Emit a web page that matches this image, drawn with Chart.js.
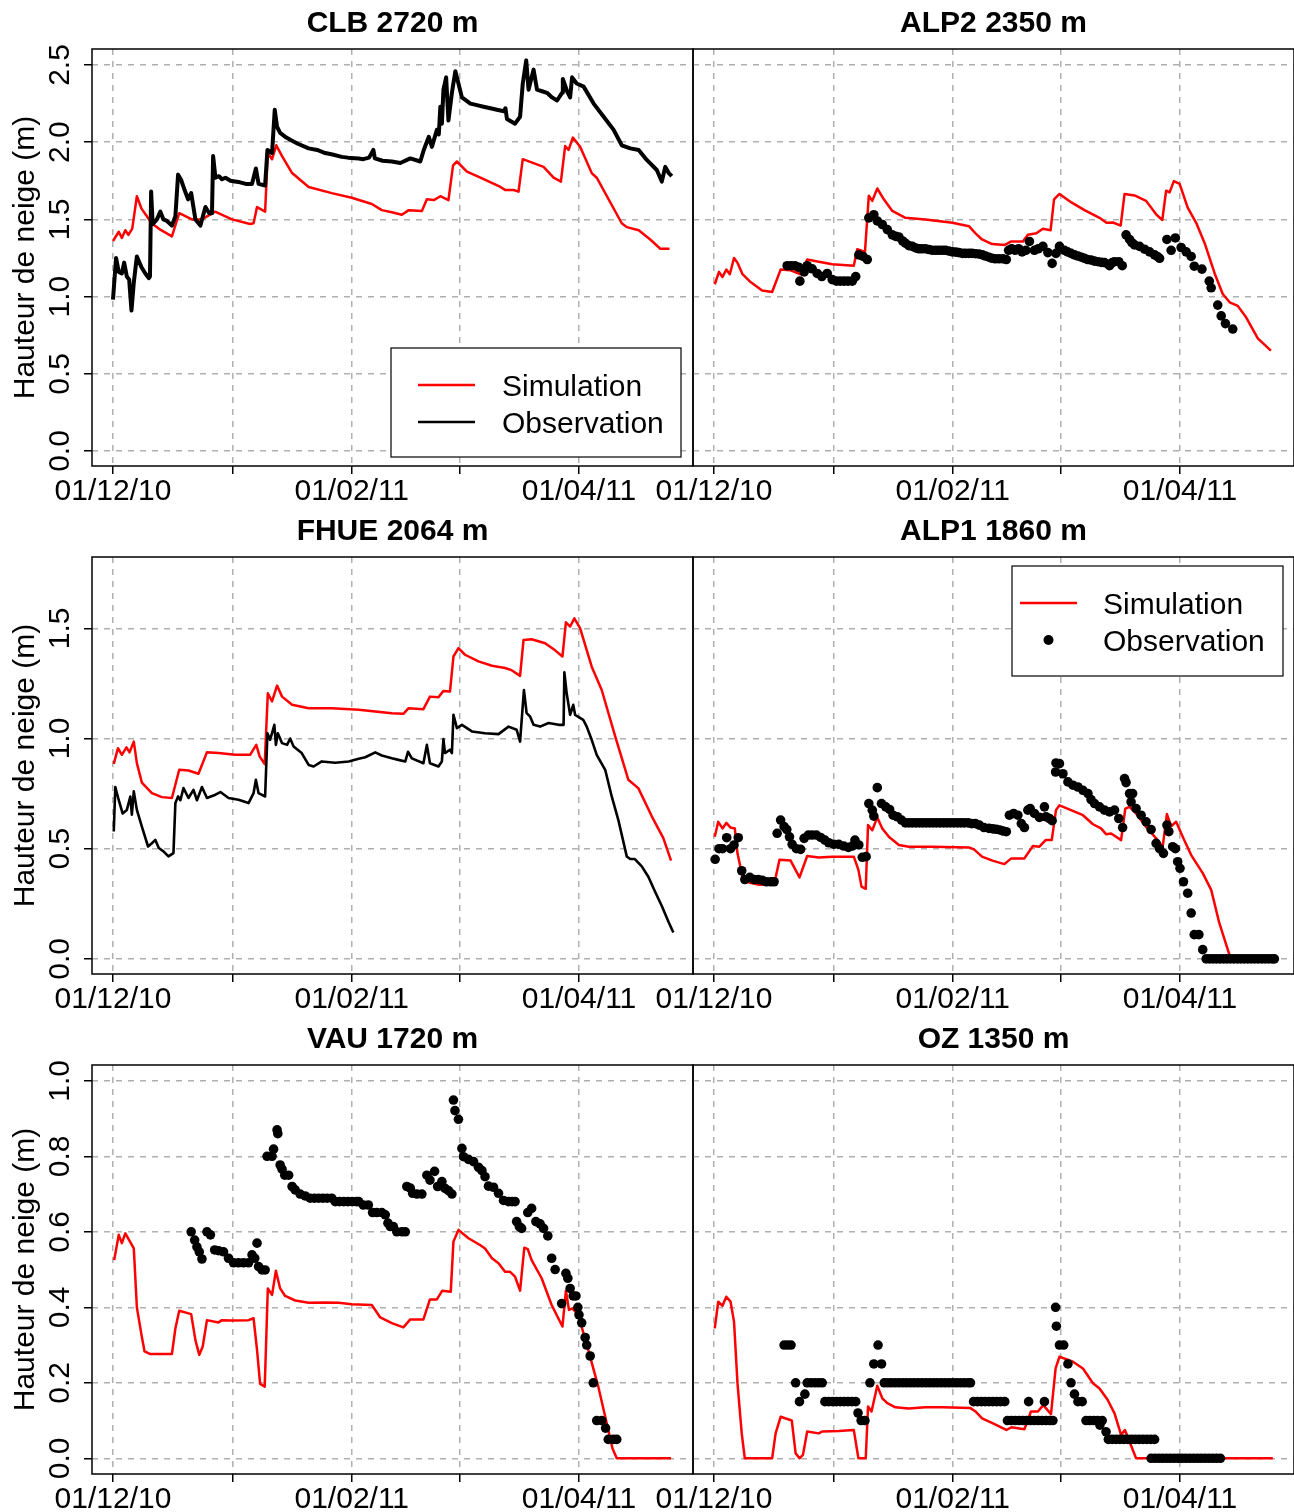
<!DOCTYPE html>
<html><head><meta charset="utf-8">
<script src="https://cdn.jsdelivr.net/npm/chart.js@4.4.1/dist/chart.umd.min.js"></script>
<style>
html,body{margin:0;padding:0;background:#fff;}
#wrap{position:relative;width:1294px;height:1512px;background:#fff;}
canvas{position:absolute;left:0;}
</style></head><body><div id="wrap">
<canvas id="c1" width="1294" height="508" style="top:0px"></canvas>
<canvas id="c2" width="1294" height="508" style="top:0px"></canvas>
<canvas id="c3" width="1294" height="508" style="top:508px"></canvas>
<canvas id="c4" width="1294" height="508" style="top:508px"></canvas>
<canvas id="c5" width="1294" height="496" style="top:1016px"></canvas>
<canvas id="c6" width="1294" height="496" style="top:1016px"></canvas>
</div>
<script>
// ---- labels / ticks ----
const xTickDays = [0, 31, 62, 90, 121];               // days since 01/12/10
const xTickLabels = ['01/12/10', '', '01/02/11', '', '01/04/11'];
const yTicksRow1 = [0, 0.5, 1, 1.5, 2, 2.5];
const yTicksRow2 = [0, 0.5, 1, 1.5];
const yTicksRow3 = [0, 0.2, 0.4, 0.6, 0.8, 1.0];
const panelTitles = ['CLB 2720 m', 'ALP2 2350 m', 'FHUE 2064 m', 'ALP1 1860 m', 'VAU 1720 m', 'OZ 1350 m'];
const seriesNames = ['Simulation', 'Observation'];
const yAxisTitle = 'Hauteur de neige (m)';

// ---- data: [day since 01/12/10, snow depth (m)] ----
const clbSim = [[0,1.36],[1.5,1.42],[2.3,1.38],[3.2,1.43],[4,1.40],[5,1.44],[6.2,1.65],[7.4,1.57],[8.8,1.52],[10,1.475],[12.5,1.43],[15.3,1.39],[17.2,1.54],[20.5,1.50],[23.1,1.50],[26.5,1.55],[30.9,1.50],[35.6,1.47],[36.5,1.475],[37.4,1.58],[39.5,1.55],[40.2,1.93],[41.3,1.89],[42.4,1.98],[43.9,1.91],[46.5,1.80],[50.8,1.71],[56.8,1.67],[62,1.64],[67.2,1.60],[69.8,1.56],[72.4,1.546],[75,1.53],[76.8,1.56],[80.2,1.555],[81.5,1.63],[83.3,1.625],[85,1.65],[87.1,1.625],[88.3,1.85],[89.3,1.875],[91.9,1.81],[95.4,1.77],[100.6,1.71],[101.9,1.69],[104,1.69],[105.3,1.68],[106.4,1.89],[111.8,1.84],[114.4,1.77],[116.3,1.745],[117.4,1.975],[118.3,1.95],[119.4,2.03],[121.3,1.97],[124.3,1.80],[125.6,1.77],[132.1,1.475],[133.4,1.45],[136.5,1.43],[139.5,1.37],[142.1,1.31],[144.5,1.31]];
const clbObs = [[0,0.98],[0.8,1.25],[1.5,1.16],[2.3,1.15],[2.9,1.22],[3.6,1.13],[4.2,1.11],[4.8,0.91],[5.4,1.09],[6.2,1.26],[7.4,1.19],[8.4,1.15],[9.3,1.12],[9.6,1.13],[9.9,1.68],[10.3,1.47],[11.4,1.50],[12.3,1.55],[13.1,1.50],[14,1.49],[15.3,1.46],[16.2,1.52],[16.9,1.79],[17.7,1.755],[18.6,1.69],[19.5,1.63],[20.3,1.67],[21.4,1.50],[22.7,1.46],[24,1.58],[25,1.54],[25.7,1.54],[26,1.91],[26.6,1.77],[27.5,1.78],[28.3,1.76],[29.2,1.77],[30.5,1.75],[31.7,1.745],[33,1.74],[34.5,1.73],[36.1,1.73],[37.1,1.83],[37.8,1.73],[39.5,1.72],[40.1,1.95],[41.3,1.93],[42,2.21],[42.6,2.10],[43.4,2.06],[45,2.03],[46.5,2.01],[48,1.99],[50.8,1.96],[53,1.95],[55.1,1.93],[57,1.92],[59.4,1.905],[61,1.90],[63.8,1.895],[65,1.89],[66.5,1.90],[67.6,1.95],[68,1.895],[70,1.88],[72.4,1.875],[74.6,1.865],[77.2,1.895],[79.8,1.875],[80.7,1.95],[82,2.035],[82.8,1.97],[84.1,2.08],[84.6,2.05],[85,2.23],[85.4,2.12],[85.8,2.34],[86.5,2.42],[87.1,2.14],[88,2.32],[88.9,2.46],[89.7,2.38],[90.6,2.29],[92.8,2.25],[94.5,2.24],[96.2,2.23],[98,2.22],[99.7,2.21],[101.5,2.20],[101.9,2.22],[102.3,2.15],[104.4,2.12],[105.7,2.165],[106.4,2.38],[107.3,2.53],[107.9,2.34],[109.2,2.47],[110.1,2.34],[111.4,2.33],[112.7,2.32],[114,2.29],[115.3,2.27],[116.6,2.32],[116.8,2.41],[117.9,2.33],[118.7,2.29],[119.2,2.42],[120.4,2.38],[122.2,2.36],[124.8,2.25],[127.4,2.165],[130,2.08],[132.1,1.98],[134.3,1.96],[136.5,1.95],[138.6,1.885],[141.2,1.82],[142.5,1.745],[143.4,1.84],[144.3,1.80],[145.1,1.78]];

const alp2Sim = [[0.2,1.08],[1.3,1.16],[2.2,1.127],[3.2,1.175],[4.1,1.145],[5.2,1.25],[6.1,1.22],[7.4,1.145],[9.5,1.094],[12.5,1.04],[15.1,1.03],[17.3,1.175],[19.9,1.17],[22.5,1.145],[24.2,1.24],[27.2,1.226],[30.7,1.21],[36.3,1.20],[37.2,1.307],[39.2,1.29],[40.2,1.653],[41.1,1.62],[42.4,1.70],[44.1,1.63],[46.3,1.555],[49.7,1.51],[54.9,1.50],[61.9,1.478],[66.2,1.456],[67.9,1.41],[69.6,1.37],[72.2,1.34],[75.5,1.335],[77.2,1.357],[80.2,1.357],[81.5,1.40],[83.7,1.41],[85.4,1.44],[87.4,1.43],[88.3,1.63],[89.7,1.665],[92.8,1.61],[96.2,1.56],[100.1,1.51],[101.9,1.478],[103.6,1.48],[105.6,1.46],[106.6,1.665],[109.2,1.655],[112.2,1.62],[114.8,1.533],[116.4,1.496],[117.4,1.686],[118.3,1.675],[119.4,1.748],[120.9,1.73],[123,1.576],[125.2,1.478],[127.4,1.346],[130,1.15],[132.1,1.017],[133.9,0.963],[136,0.94],[138.2,0.864],[141.2,0.73],[144.6,0.65]];
const alp2Obs = [[19,1.20],[20,1.20],[21,1.20],[22,1.19],[22.3,1.10],[23.4,1.16],[24.2,1.20],[25.5,1.18],[26.8,1.15],[28,1.13],[29.4,1.15],[30.7,1.11],[31.8,1.10],[32.8,1.10],[33.8,1.10],[34.8,1.10],[35.9,1.10],[36.8,1.13],[37.6,1.27],[38.7,1.26],[39.8,1.24],[40.2,1.51],[41.5,1.53],[42.4,1.49],[43.7,1.467],[45,1.434],[46.3,1.40],[47.2,1.39],[48,1.386],[49,1.36],[49.7,1.346],[50.6,1.33],[51.5,1.325],[52.4,1.315],[53.2,1.31],[54,1.31],[54.9,1.31],[55.8,1.305],[56.7,1.30],[57.6,1.30],[58.4,1.30],[59.3,1.30],[60.1,1.30],[61,1.295],[61.9,1.29],[62.8,1.288],[63.6,1.285],[64.5,1.28],[65.3,1.28],[66.2,1.28],[67,1.28],[67.9,1.278],[68.8,1.276],[69.7,1.27],[70.5,1.263],[71.4,1.255],[72.2,1.248],[73,1.245],[74,1.245],[75,1.245],[75.9,1.24],[76.5,1.30],[77.3,1.31],[78.2,1.30],[79.1,1.31],[80,1.29],[81,1.30],[81.9,1.357],[83.2,1.30],[84.2,1.31],[85.4,1.325],[86.7,1.285],[87.8,1.215],[88.8,1.28],[89.7,1.325],[91,1.30],[91.8,1.29],[92.7,1.28],[93.6,1.27],[94.5,1.263],[95.4,1.255],[96.2,1.248],[97,1.24],[97.9,1.237],[98.8,1.23],[99.7,1.226],[100.6,1.222],[101.4,1.22],[102.7,1.20],[103.4,1.22],[104,1.226],[105.1,1.226],[106,1.20],[107,1.40],[107.9,1.37],[108.5,1.35],[109.2,1.335],[110.5,1.325],[111.8,1.307],[113.1,1.29],[114.4,1.27],[115.1,1.26],[115.7,1.248],[117.6,1.37],[118.7,1.30],[119.8,1.38],[121.3,1.318],[122.6,1.29],[123.9,1.26],[124.7,1.197],[126.7,1.178],[128.6,1.10],[129.1,1.057],[130.8,0.945],[131.7,0.875],[132.8,0.825],[134.7,0.79]];

const fhueSim = [[0.2,0.885],[1.3,0.956],[2.3,0.926],[3.5,0.96],[4.3,0.937],[5.4,0.986],[6.2,0.888],[7.5,0.80],[10.1,0.752],[12.7,0.734],[15.3,0.73],[17.2,0.858],[19.6,0.855],[22.2,0.84],[24.4,0.938],[27.4,0.934],[31.7,0.926],[35.6,0.926],[37.2,0.971],[38.1,0.918],[39.4,0.884],[40.2,1.205],[41.3,1.168],[42.6,1.24],[43.9,1.19],[46.5,1.153],[50.8,1.137],[56.8,1.137],[63.8,1.13],[72.4,1.115],[75.4,1.112],[76.7,1.137],[80.6,1.133],[82.3,1.19],[84.5,1.187],[85.8,1.216],[87.5,1.213],[88.4,1.372],[89.7,1.41],[91.4,1.38],[94.9,1.35],[98.4,1.33],[101.8,1.32],[103.5,1.31],[105.7,1.284],[106.6,1.447],[108.7,1.45],[112.2,1.432],[114.8,1.40],[116.7,1.372],[117.6,1.527],[118.7,1.508],[119.8,1.545],[121.3,1.50],[124.3,1.326],[126.9,1.22],[130.4,1.01],[133.8,0.813],[136.4,0.775],[139.9,0.647],[142.9,0.548],[144.9,0.446]];
const fhueObs = [[0.2,0.578],[0.6,0.78],[1.5,0.72],[2.5,0.66],[3.6,0.676],[4.5,0.737],[4.9,0.654],[5.4,0.76],[6.2,0.676],[7.5,0.60],[9.1,0.51],[10.1,0.525],[11,0.54],[11.9,0.503],[13.1,0.488],[14.4,0.465],[15.7,0.48],[16.2,0.707],[16.9,0.737],[17.5,0.72],[18.3,0.775],[19.6,0.73],[20.9,0.767],[21.8,0.72],[23.1,0.78],[24.4,0.73],[26.6,0.745],[27.9,0.757],[30,0.73],[32.6,0.722],[35.2,0.707],[36.5,0.752],[37.1,0.813],[37.8,0.752],[39.5,0.737],[40.1,1.024],[40.8,0.994],[41.9,1.062],[42.3,0.971],[42.8,1.024],[43.9,0.979],[45.2,0.971],[46,1.0],[46.9,0.964],[49,0.934],[50.8,0.88],[52.1,0.873],[54.2,0.896],[57.7,0.89],[61.2,0.896],[63.8,0.908],[65.5,0.915],[68.1,0.937],[69.8,0.923],[72.4,0.91],[74.1,0.903],[75.9,0.896],[76.6,0.94],[77.6,0.91],[80.6,0.888],[81.5,0.971],[82.3,0.888],[84.5,0.873],[85.4,0.896],[85.8,0.997],[86.2,0.934],[87.5,0.949],[88,0.934],[88.4,1.107],[89.3,1.047],[90.6,1.062],[93.2,1.032],[96.6,1.024],[100.1,1.02],[102.7,1.054],[104.8,1.04],[105.7,0.986],[106.7,1.22],[107.4,1.115],[108.3,1.10],[109.2,1.062],[110.9,1.054],[113.1,1.07],[115.7,1.062],[117,1.062],[117.2,1.30],[117.8,1.205],[118.7,1.107],[119.5,1.153],[120,1.107],[122.1,1.085],[123,1.054],[124.3,0.994],[125.6,0.926],[127.8,0.858],[129.5,0.737],[131.2,0.631],[133.4,0.465],[134.3,0.453],[135.5,0.453],[137.3,0.42],[139,0.373],[140.7,0.307],[142.5,0.24],[144.2,0.17],[145.5,0.12]];

const alp1Sim = [[0.2,0.554],[1.1,0.622],[2.2,0.592],[3.2,0.617],[4.3,0.596],[5.4,0.592],[6.1,0.479],[7.4,0.373],[9.1,0.346],[11.7,0.336],[15.6,0.336],[17,0.45],[19.9,0.446],[22.2,0.37],[24.2,0.467],[27.2,0.46],[30.7,0.464],[36.3,0.464],[37.5,0.404],[38.3,0.328],[39.4,0.318],[40,0.607],[41.1,0.584],[42.4,0.642],[43.7,0.592],[45.4,0.554],[48,0.517],[50.6,0.509],[56.7,0.509],[66.2,0.506],[67.5,0.497],[69.6,0.464],[72.3,0.446],[75.4,0.43],[77.2,0.456],[80.6,0.456],[82.8,0.512],[84.5,0.509],[86.1,0.539],[87.7,0.539],[88.8,0.675],[89.7,0.697],[92.7,0.675],[95.8,0.652],[98.4,0.611],[100.5,0.592],[101.8,0.566],[103.1,0.569],[104.4,0.554],[105.7,0.539],[106.8,0.682],[107.9,0.69],[109.6,0.66],[112.2,0.599],[114.8,0.547],[116.5,0.509],[117.6,0.657],[118.7,0.602],[120,0.622],[121.7,0.554],[123.9,0.471],[126.9,0.389],[129.1,0.313],[131.2,0.163],[133.8,0.02],[134.7,0],[145,0]];
const alp1Obs = [[0.3,0.452],[1.3,0.50],[2.2,0.50],[3.3,0.55],[4.3,0.50],[5.2,0.517],[6.3,0.55],[7.2,0.40],[8,0.36],[9.3,0.37],[10.4,0.36],[11.5,0.36],[12.5,0.357],[13.6,0.35],[14.7,0.35],[15.6,0.35],[16.4,0.57],[17.3,0.63],[18.2,0.60],[18.9,0.587],[19.6,0.554],[20.3,0.52],[21.4,0.50],[22.5,0.497],[23.4,0.547],[24.5,0.562],[25.5,0.562],[26.6,0.562],[27.7,0.551],[28.8,0.539],[29.8,0.527],[31.1,0.52],[32.4,0.52],[33.7,0.512],[34.9,0.506],[35.9,0.512],[36.6,0.539],[37.6,0.517],[38.5,0.461],[39.5,0.464],[40.2,0.705],[41.1,0.675],[41.5,0.648],[42.4,0.777],[43.5,0.705],[44.6,0.69],[45.6,0.678],[46.5,0.652],[47.6,0.645],[48.7,0.63],[49.7,0.617],[50.6,0.617],[51.5,0.617],[52.4,0.617],[53.3,0.617],[54.2,0.617],[55.1,0.617],[56,0.617],[56.9,0.617],[57.8,0.617],[58.7,0.617],[59.6,0.617],[60.5,0.617],[61.4,0.617],[62.3,0.617],[63.2,0.617],[64.1,0.617],[65,0.617],[66,0.617],[66.9,0.614],[67.9,0.614],[68.9,0.607],[70.1,0.596],[71.4,0.592],[72.4,0.59],[73.3,0.588],[74.2,0.585],[75.1,0.58],[75.9,0.577],[76.7,0.652],[77.8,0.66],[78.9,0.652],[79.8,0.614],[80.6,0.596],[81.5,0.675],[82.1,0.682],[83.2,0.66],[84.5,0.642],[85.8,0.69],[86.2,0.645],[87.1,0.637],[87.8,0.627],[88.7,0.848],[88.8,0.889],[89.7,0.886],[90.6,0.84],[91.9,0.803],[93.2,0.788],[94.5,0.78],[95.8,0.765],[97.1,0.75],[97.9,0.723],[98.8,0.705],[100.1,0.69],[101.4,0.675],[102.7,0.667],[104,0.675],[105.1,0.637],[106.1,0.596],[106.6,0.818],[107,0.80],[107.9,0.75],[108.3,0.712],[108.7,0.75],[109.6,0.682],[110.9,0.652],[112.2,0.622],[113.5,0.587],[114.8,0.524],[115.7,0.50],[116.7,0.479],[117.6,0.607],[118.1,0.577],[119.1,0.509],[119.8,0.50],[120.4,0.441],[121,0.411],[121.9,0.35],[123,0.298],[123.9,0.208],[124.7,0.11],[125.9,0.11],[126.9,0.042],[127.8,0],[128.7,0],[129.6,0],[130.5,0],[131.4,0],[132.3,0],[133.2,0],[134.1,0],[135,0],[135.9,0],[136.8,0],[137.7,0],[138.6,0],[139.5,0],[140.4,0],[141.3,0],[142.2,0],[143.1,0],[144,0],[144.9,0],[145.5,0]];

const vauSim = [[0.3,0.525],[1.5,0.592],[2.3,0.57],[3.2,0.596],[4.2,0.578],[5.4,0.556],[6.2,0.40],[7.4,0.327],[8.2,0.283],[9.7,0.276],[11.9,0.276],[15.3,0.276],[16.2,0.344],[17.2,0.391],[20.3,0.382],[21.4,0.313],[22.4,0.274],[23.3,0.296],[24.4,0.366],[27.4,0.36],[28.3,0.366],[30.9,0.365],[35.2,0.366],[36.5,0.371],[37.4,0.287],[38.2,0.197],[39.4,0.19],[40.2,0.45],[41.3,0.433],[42.3,0.497],[43.4,0.45],[44.7,0.43],[47.3,0.418],[50.8,0.412],[55.1,0.413],[58.6,0.412],[62,0.408],[67.2,0.406],[69.4,0.373],[72.4,0.358],[75.4,0.347],[77.2,0.368],[80.6,0.368],[82.3,0.421],[84.1,0.421],[85.5,0.444],[87.7,0.441],[88.4,0.574],[89.7,0.605],[92.3,0.583],[95.3,0.565],[96.6,0.556],[98.4,0.53],[100.1,0.517],[101.8,0.494],[103.1,0.494],[104.4,0.481],[105.7,0.444],[106.8,0.558],[107.7,0.554],[108.7,0.525],[111.3,0.477],[113.9,0.406],[116.7,0.349],[117.6,0.444],[118.4,0.393],[119.3,0.397],[120.8,0.38],[123.4,0.287],[126,0.19],[128.2,0.093],[129.7,0.026],[130.8,0],[144.9,0]];
const vauObs = [[20.3,0.60],[21.2,0.578],[21.8,0.56],[22.4,0.547],[23.1,0.528],[24.4,0.60],[25.3,0.592],[26.4,0.552],[27.4,0.55],[28.7,0.547],[30,0.53],[31.3,0.518],[32.6,0.518],[33.9,0.518],[35.2,0.518],[36.1,0.539],[36.8,0.53],[37.4,0.57],[37.8,0.508],[38.7,0.499],[39.5,0.499],[40,0.80],[41.3,0.80],[41.7,0.819],[42.6,0.87],[42.8,0.86],[43.4,0.777],[43.9,0.766],[44.6,0.75],[45.6,0.75],[46.5,0.72],[47.3,0.711],[48.6,0.70],[49.9,0.695],[51.2,0.689],[52.3,0.689],[53.4,0.689],[54.5,0.689],[55.6,0.689],[56.8,0.689],[57.7,0.68],[58.8,0.68],[59.9,0.68],[61,0.68],[62.1,0.68],[63.2,0.68],[63.8,0.68],[65,0.671],[66.3,0.671],[67.4,0.651],[68.5,0.651],[69.8,0.651],[70.7,0.645],[71.4,0.623],[72,0.614],[72.8,0.614],[73.7,0.60],[75,0.60],[75.9,0.60],[76.3,0.72],[77.2,0.716],[77.8,0.702],[78.9,0.70],[80.2,0.70],[81.5,0.75],[82.3,0.737],[83.5,0.76],[84.3,0.72],[85.4,0.733],[86.2,0.715],[87.1,0.709],[88,0.70],[88.4,0.949],[88.8,0.921],[89.7,0.898],[90.6,0.821],[91,0.799],[92.3,0.792],[93.6,0.786],[94.9,0.771],[95.8,0.762],[96.6,0.746],[97.5,0.721],[98.8,0.718],[100.1,0.702],[101.4,0.683],[102.7,0.68],[103.6,0.68],[104.4,0.68],[104.8,0.627],[105.5,0.614],[106.1,0.609],[107.7,0.651],[108.7,0.662],[109.8,0.627],[110.9,0.621],[111.8,0.609],[112.9,0.589],[113.9,0.53],[114.8,0.50],[116.5,0.41],[117.6,0.49],[118.1,0.477],[118.7,0.45],[119.5,0.43],[120.2,0.43],[120.7,0.40],[121,0.38],[121.7,0.359],[122.6,0.32],[123,0.30],[123.9,0.271],[124.7,0.20],[125.6,0.10],[126.9,0.10],[127.9,0.08],[128.6,0.05],[129.9,0.05],[130.8,0.05]];

const ozSim = [[0.2,0.344],[1.1,0.415],[2.2,0.404],[3.2,0.428],[4.3,0.415],[5.2,0.362],[6.1,0.199],[7.2,0.066],[8,0],[15.1,0],[16,0.066],[17.3,0.11],[20.2,0.10],[21.2,0.013],[22.2,0],[23.1,0.009],[24.2,0.071],[27.2,0.066],[28.1,0.071],[32.4,0.072],[36.3,0.075],[37.5,0],[39.4,0],[40,0.137],[40.9,0.124],[42.4,0.192],[43.7,0.159],[45,0.146],[47.1,0.135],[50.6,0.132],[54.9,0.135],[59.3,0.135],[66.6,0.133],[67.9,0.124],[69.6,0.106],[72.3,0.093],[75.9,0.075],[77.2,0.082],[80.6,0.077],[82.3,0.124],[84.1,0.124],[85.5,0.141],[87.5,0.117],[88.7,0.238],[89.7,0.269],[93.2,0.256],[95.8,0.238],[98.4,0.199],[100.1,0.185],[102.2,0.155],[104,0.119],[105.7,0.062],[106.7,0.075],[107.7,0.049],[109.6,0],[145.1,0]];
const ozObs = [[18.2,0.30],[19.1,0.30],[20,0.30],[21.2,0.20],[22.2,0.15],[23.6,0.17],[24.2,0.20],[25.2,0.20],[26.2,0.20],[27.2,0.20],[28.1,0.20],[28.8,0.15],[29.8,0.15],[30.8,0.15],[31.8,0.15],[32.8,0.15],[33.8,0.15],[34.8,0.15],[35.8,0.15],[36.8,0.15],[37.4,0.12],[38.2,0.10],[39.2,0.10],[40.5,0.20],[41.5,0.25],[42.6,0.30],[43.5,0.25],[44.2,0.20],[45.1,0.20],[46,0.20],[47,0.20],[48,0.20],[49,0.20],[50,0.20],[51,0.20],[52,0.20],[53,0.20],[54,0.20],[55,0.20],[56,0.20],[57,0.20],[58,0.20],[59,0.20],[60,0.20],[61,0.20],[62,0.20],[63,0.20],[64,0.20],[65,0.20],[66,0.20],[66.6,0.20],[67.4,0.15],[68.4,0.15],[69.4,0.15],[70.4,0.15],[71.4,0.15],[72.4,0.15],[73.4,0.15],[74.4,0.15],[75.5,0.15],[76.2,0.10],[77.2,0.10],[78.2,0.10],[79.2,0.10],[80.2,0.10],[81.2,0.10],[81.7,0.15],[82.2,0.10],[83.2,0.10],[84.2,0.10],[85.2,0.10],[85.8,0.15],[86.2,0.10],[87.2,0.10],[88,0.10],[88.7,0.40],[88.9,0.35],[89.7,0.30],[90.8,0.30],[91.9,0.25],[92.7,0.20],[93.6,0.17],[94.5,0.15],[95.6,0.15],[96.6,0.10],[97.6,0.10],[98.6,0.10],[99.6,0.10],[100.2,0.088],[100.8,0.10],[101.8,0.07],[102.4,0.05],[103.4,0.05],[104.4,0.05],[105.4,0.05],[106.4,0.05],[107.4,0.05],[108.4,0.05],[109.4,0.05],[110.4,0.05],[111.4,0.05],[112.4,0.05],[113.4,0.05],[114.4,0.05],[113.5,0],[114.5,0],[115.5,0],[116.5,0],[117.5,0],[118.5,0],[119.5,0],[120.5,0],[121.5,0],[122.5,0],[123.5,0],[124.5,0],[125.5,0],[126.5,0],[127.5,0],[128.5,0],[129.5,0],[130.5,0],[131.5,0]];

// ---- rendering ----
const FONT = "'Liberation Sans', Arial, Helvetica, sans-serif";
Chart.defaults.font.family = FONT;
Chart.defaults.color = '#000';

function toXY(a) { return a.map(p => ({ x: p[0], y: p[1] })); }

const boxPlugin = {
  id: 'panelBox',
  afterDraw(chart) {
    const { ctx, chartArea: a } = chart;
    ctx.save();
    ctx.strokeStyle = '#000';
    ctx.lineWidth = 1.5;
    ctx.strokeRect(a.left, a.top, a.right - a.left, a.bottom - a.top);
    ctx.restore();
  }
};

const legendPlugin = {
  id: 'boxLegend',
  afterDraw(chart, args, o) {
    if (!o || !o.box) return;
    const ctx = chart.ctx;
    const [bx, by, bw, bh] = o.box;
    ctx.save();
    ctx.fillStyle = '#fff';
    ctx.fillRect(bx, by, bw, bh);
    ctx.strokeStyle = '#000';
    ctx.lineWidth = 1.2;
    ctx.strokeRect(bx, by, bw, bh);
    ctx.font = '30px ' + FONT;
    ctx.textBaseline = 'middle';
    ctx.textAlign = 'left';
    o.items.forEach((it, i) => {
      const ds = chart.data.datasets[it.ds];
      const y = o.rowY[i];
      if (it.kind === 'line') {
        ctx.strokeStyle = ds.borderColor;
        ctx.lineWidth = 2.5;
        ctx.beginPath(); ctx.moveTo(o.lineX[0], y); ctx.lineTo(o.lineX[1], y); ctx.stroke();
      } else {
        ctx.fillStyle = '#000';
        ctx.beginPath(); ctx.arc((o.lineX[0] + o.lineX[1]) / 2, y, 5, 0, Math.PI * 2); ctx.fill();
      }
      ctx.fillStyle = '#000';
      ctx.fillText(ds.label, o.textX, y + 3);
    });
    ctx.restore();
  }
};

function panel(id, cfg) {
  const left = cfg.side === 'left';
  const obsDs = cfg.dots
    ? { label: seriesNames[1], data: toXY(cfg.obs), showLine: false, pointRadius: 4.8, pointHoverRadius: 4.8,
        pointBackgroundColor: '#000', pointBorderColor: '#000', pointBorderWidth: 0, borderColor: '#000' }
    : { label: seriesNames[1], data: toXY(cfg.obs), showLine: true, borderColor: '#000', borderWidth: cfg.obsWidth,
        pointRadius: 0, tension: 0, borderJoinStyle: 'round' };
  const simDs = { label: seriesNames[0], data: toXY(cfg.sim), showLine: true, borderColor: '#ff0000', borderWidth: 2.5,
    pointRadius: 0, tension: 0, borderJoinStyle: 'round' };
  new Chart(document.getElementById(id), {
    type: 'scatter',
    data: { datasets: [obsDs, simDs] },
    options: {
      responsive: false, animation: false, devicePixelRatio: 1, events: [],
      layout: { autoPadding: false, padding: { left: left ? 0 : 693, right: left ? 601 : 0, top: 0, bottom: 0 } },
      plugins: {
        legend: { display: false }, tooltip: { enabled: false },
        title: { display: true, text: cfg.title, fullSize: false, color: '#000',
          font: { size: 30, weight: 'bold', lineHeight: 1.2 }, padding: { top: 6, bottom: 7 } },
        boxLegend: cfg.legend || {}
      },
      scales: {
        x: {
          type: 'linear', min: -5.45, max: 150.6,
          afterBuildTicks(s) { s.ticks = xTickDays.map(v => ({ value: v })); },
          afterFit(s) { s.height = cfg.xAxisH; },
          ticks: { autoSkip: false, maxRotation: 0, minRotation: 0, padding: 3, color: '#000',
            font: { size: 30, lineHeight: 1 },
            callback(v, i) { return xTickLabels[i]; } },
          grid: { color: '#b0b0b0', lineWidth: 1.5, drawTicks: true, tickLength: 8,
            tickColor: '#000', tickWidth: 1.5, tickBorderDash: [] },
          border: { display: false, dash: [6, 6] }
        },
        y: {
          type: 'linear', min: cfg.yMin, max: cfg.yMax,
          afterBuildTicks(s) { s.ticks = cfg.yTicks.map(v => ({ value: v })); },
          afterFit(s) { s.width = left ? 92 : 0; },
          ticks: { display: left, minRotation: 90, maxRotation: 90, crossAlign: 'center', padding: 2,
            color: '#000', font: { size: 30, lineHeight: 1 },
            callback(v) { return Number(v).toFixed(1); } },
          grid: { color: '#b0b0b0', lineWidth: 1.5, drawTicks: left, tickLength: 8,
            tickColor: '#000', tickWidth: 1.5, tickBorderDash: [] },
          border: { display: false, dash: [6, 6] },
          title: { display: left, text: yAxisTitle, color: '#000', font: { size: 30, lineHeight: 1 },
            padding: { top: 11, bottom: 0 } }
        }
      }
    },
    plugins: [boxPlugin, legendPlugin]
  });
}

const row1 = { yMin: -0.0971, yMax: 2.6036, yTicks: yTicksRow1, xAxisH: 42 };
const row2 = { yMin: -0.0685, yMax: 1.8235, yTicks: yTicksRow2, xAxisH: 42 };
const row3 = { yMin: -0.0416, yMax: 1.0419, yTicks: yTicksRow3, xAxisH: 38 };

panel('c1', Object.assign({}, row1, { side: 'left', title: panelTitles[0], sim: clbSim, obs: clbObs, dots: false, obsWidth: 4,
  legend: { box: [391, 348, 290, 109], rowY: [385, 422], lineX: [418, 475], textX: 502,
    items: [{ ds: 1, kind: 'line' }, { ds: 0, kind: 'line' }] } }));
panel('c2', Object.assign({}, row1, { side: 'right', title: panelTitles[1], sim: alp2Sim, obs: alp2Obs, dots: true }));
panel('c3', Object.assign({}, row2, { side: 'left', title: panelTitles[2], sim: fhueSim, obs: fhueObs, dots: false, obsWidth: 2.6 }));
panel('c4', Object.assign({}, row2, { side: 'right', title: panelTitles[3], sim: alp1Sim, obs: alp1Obs, dots: true,
  legend: { box: [1012, 58, 271, 110], rowY: [95, 132], lineX: [1020, 1077], textX: 1103,
    items: [{ ds: 1, kind: 'line' }, { ds: 0, kind: 'dot' }] } }));
panel('c5', Object.assign({}, row3, { side: 'left', title: panelTitles[4], sim: vauSim, obs: vauObs, dots: true }));
panel('c6', Object.assign({}, row3, { side: 'right', title: panelTitles[5], sim: ozSim, obs: ozObs, dots: true }));
</script>
</body></html>
